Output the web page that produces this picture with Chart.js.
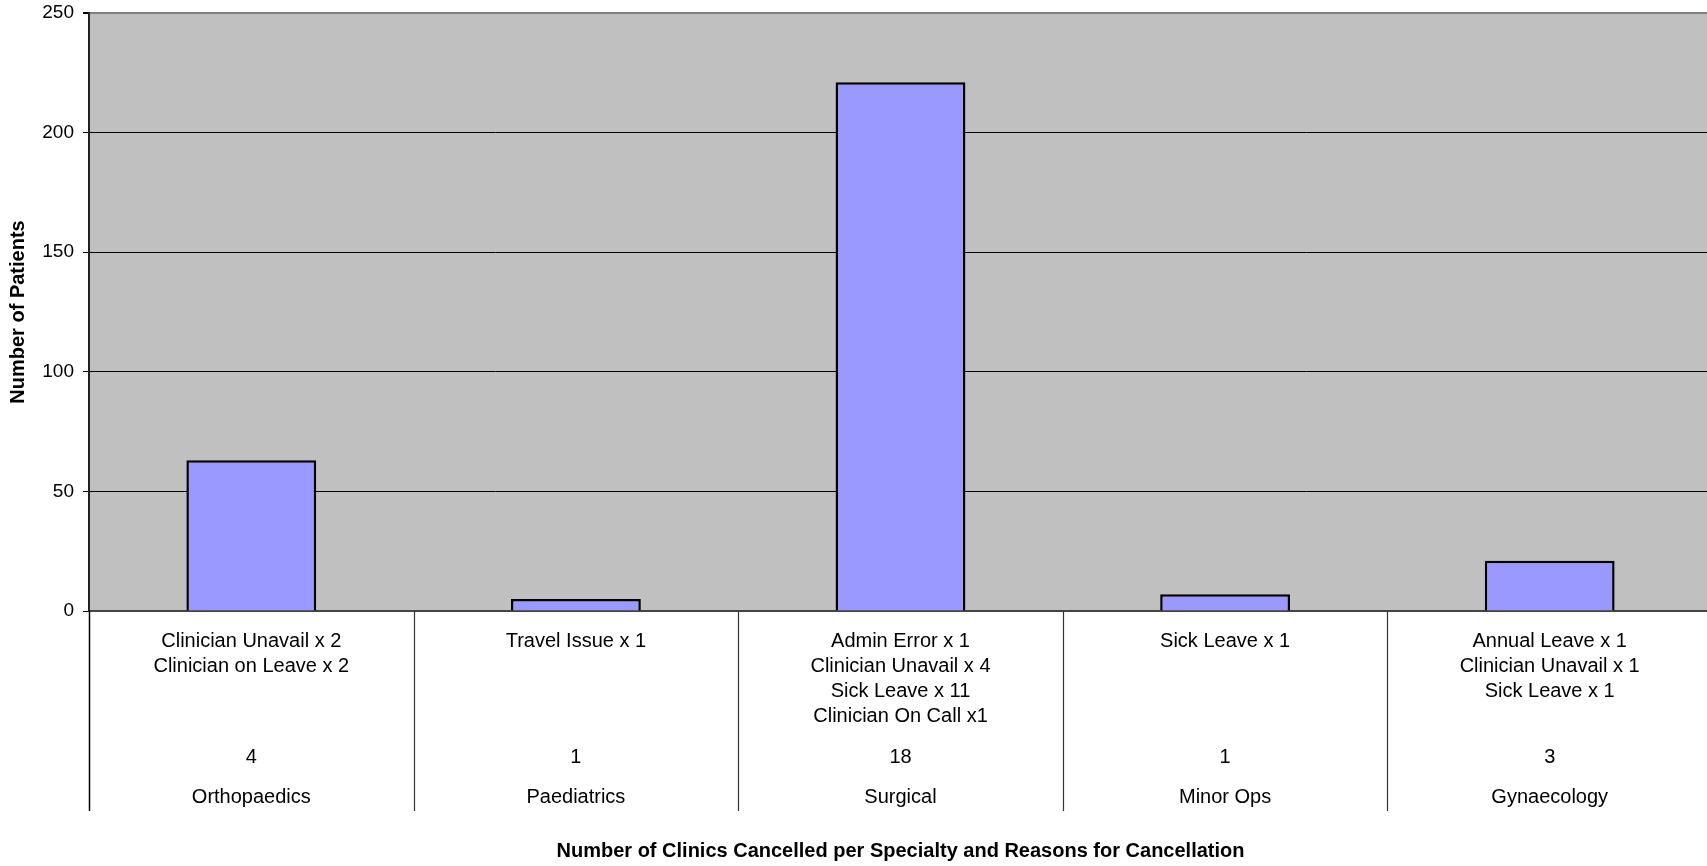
<!DOCTYPE html>
<html>
<head>
<meta charset="utf-8">
<title>Clinics Cancelled per Specialty</title>
<style>
  html, body { margin: 0; padding: 0; overflow: hidden; background: #ffffff; }
  #wrap { width: 1712px; height: 866px; }
</style>
<script src="https://cdn.jsdelivr.net/npm/chart.js@4/dist/chart.umd.min.js"></script>
</head>
<body>
<div id="wrap"><canvas id="chart" width="1712" height="866"></canvas></div>
<script>
// Specialties and the number of patients affected by cancelled clinics
const specialties = ['Orthopaedics', 'Paediatrics', 'Surgical', 'Minor Ops', 'Gynaecology'];
const patients = [63, 5, 221, 7, 21];
const clinicsCancelled = [4, 1, 18, 1, 3];
const reasons = [
  ['Clinician Unavail x 2', 'Clinician on Leave x 2'],
  ['Travel Issue x 1'],
  ['Admin Error x 1', 'Clinician Unavail x 4', 'Sick Leave x 11', 'Clinician On Call x1'],
  ['Sick Leave x 1'],
  ['Annual Leave x 1', 'Clinician Unavail x 1', 'Sick Leave x 1']
];
const yTickMin = 0;
const yTickMax = 250;
const yTickStep = 50;

const FONT = '"Liberation Sans", Arial, sans-serif';

// Grey fill behind the plot area
const plotBackground = {
  id: 'plotBackground',
  beforeDraw(chart) {
    const { ctx, chartArea: a } = chart;
    ctx.save();
    ctx.fillStyle = '#C0C0C0';
    ctx.fillRect(a.left, a.top, a.right - a.left, a.bottom - a.top);
    ctx.restore();
  }
};

// Three-row category axis: reasons, clinic counts, specialty names, with dividers
const categoryRows = {
  id: 'categoryRows',
  afterDraw(chart) {
    const { ctx, chartArea: a } = chart;
    const x = chart.scales.x;
    const n = specialties.length;
    const step = (x.right - x.left) / n;
    const lineBottom = a.bottom + 200;
    ctx.save();
    for (let k = 0; k <= n; k++) {
      const px = Math.round(x.left + k * step) + 0.5;
      ctx.beginPath();
      ctx.strokeStyle = k === 0 ? '#000000' : '#333333';
      ctx.lineWidth = k === 0 ? 1.5 : 1.2;
      ctx.moveTo(px, a.bottom);
      ctx.lineTo(px, lineBottom);
      ctx.stroke();
    }
    ctx.fillStyle = '#000000';
    ctx.font = '20px ' + FONT;
    ctx.textAlign = 'center';
    ctx.textBaseline = 'middle';
    specialties.forEach((name, i) => {
      const cx = x.getPixelForValue(i);
      reasons[i].forEach((line, j) => {
        ctx.fillText(line, cx, a.bottom + 30 + j * 25.2);
      });
      ctx.fillText(String(clinicsCancelled[i]), cx, a.bottom + 146);
      ctx.fillText(name, cx, a.bottom + 186);
    });
    ctx.restore();
  }
};

new Chart(document.getElementById('chart'), {
  type: 'bar',
  data: {
    labels: specialties,
    datasets: [{
      data: patients,
      backgroundColor: '#9999FF',
      borderColor: '#000000',
      borderWidth: 2.5,
      barPercentage: 0.4,
      categoryPercentage: 1.0
    }]
  },
  options: {
    responsive: false,
    animation: false,
    devicePixelRatio: 1,
    layout: { padding: { top: 13, left: 0, right: 0, bottom: 0 } },
    plugins: {
      legend: { display: false },
      tooltip: { enabled: false }
    },
    scales: {
      x: {
        type: 'category',
        grid: { display: false },
        ticks: { display: false },
        border: { display: true, color: '#444444', width: 2 },
        title: {
          display: true,
          text: 'Number of Clinics Cancelled per Specialty and Reasons for Cancellation',
          color: '#000000',
          font: { family: FONT, size: 20, weight: 'bold' },
          padding: { top: 0, bottom: 3 }
        },
        afterFit(scale) { scale.height = 255; }
      },
      y: {
        min: yTickMin,
        max: yTickMax,
        ticks: {
          stepSize: yTickStep,
          color: '#000000',
          padding: 9,
          font: { family: FONT, size: 19 }
        },
        grid: {
          color: (c) => (c.tick && c.tick.value === yTickMax ? '#808080' : '#000000'),
          lineWidth: (c) => (c.tick && c.tick.value === yTickMax ? 2 : 1),
          tickColor: '#000000',
          tickLength: 6,
          drawTicks: true
        },
        border: { display: true, color: '#222222', width: 2 },
        title: {
          display: true,
          text: 'Number of Patients',
          color: '#000000',
          font: { family: FONT, size: 20, weight: 'bold' },
          padding: { top: 6, bottom: 0 }
        },
        afterFit(scale) {
          scale.width = 89;
          scale.paddingTop = 0;
          scale.paddingBottom = 0;
        }
      }
    }
  },
  plugins: [plotBackground, categoryRows]
});
</script>
</body>
</html>
